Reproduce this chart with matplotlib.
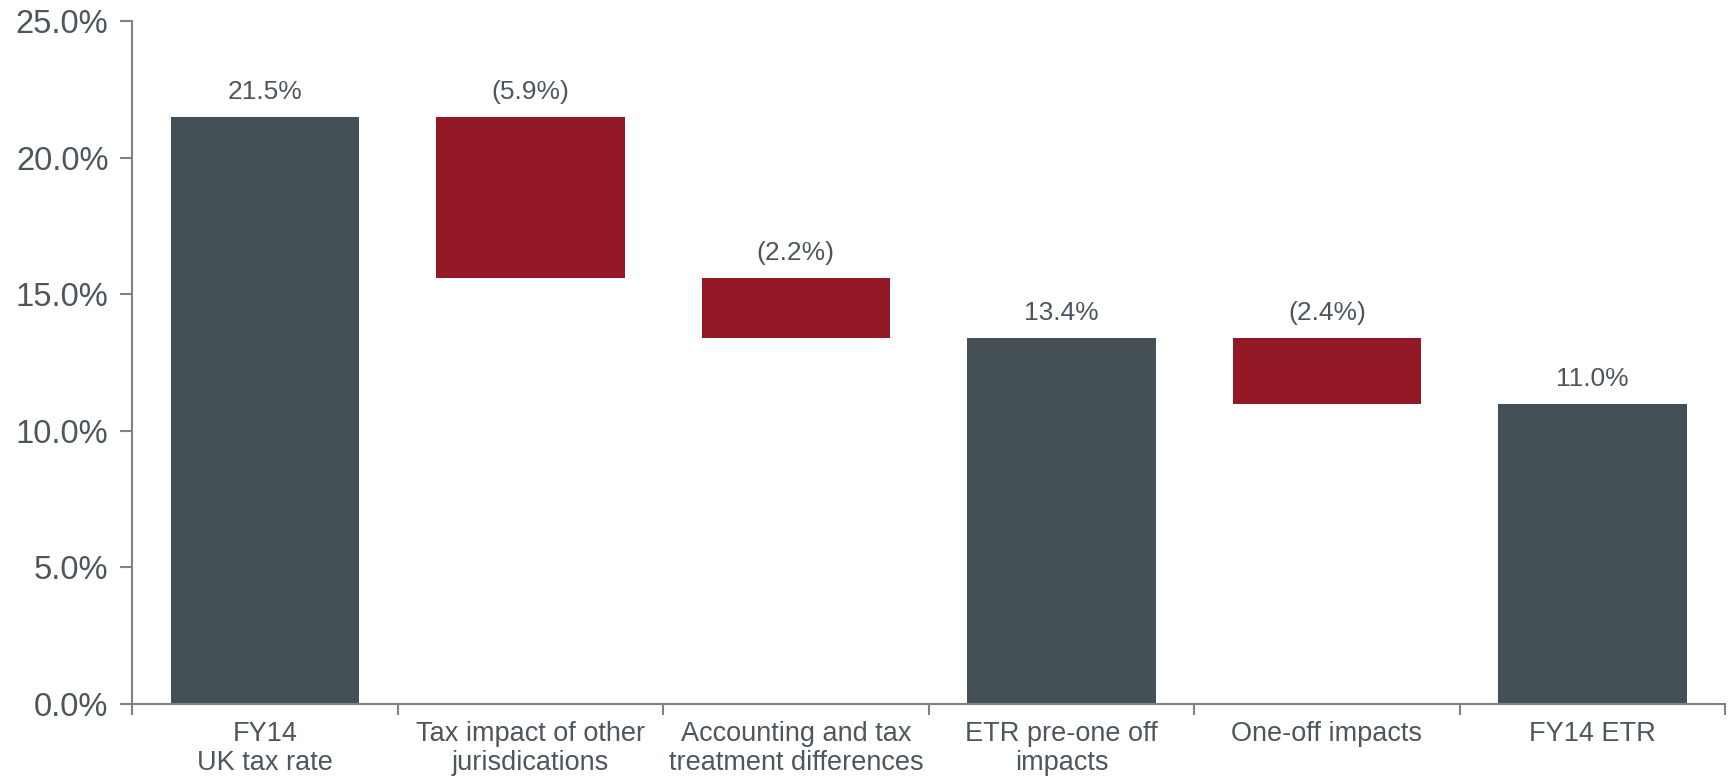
import numpy as np
import matplotlib
matplotlib.use("Agg")
import matplotlib.pyplot as plt

plt.rcParams["font.family"] = ["Liberation Sans", "DejaVu Sans"]

# Datos del gráfico (cascada de tasa efectiva)
categorias = ["FY14\nUK tax rate", "Tax impact of other\njurisdications",
              "Accounting and tax\ntreatment differences", "ETR pre-one off\nimpacts",
              "One-off impacts", "FY14 ETR"]
valores = [21.5, -5.9, -2.2, 13.4, -2.4, 11.0]
es_total = [True, False, False, True, False, True]

gris = "#454f56"
rojo = "#931927"
texto = "#4d565d"
eje = "#7d8388"

# Calcular bases de la cascada
bases, alturas, etiquetas = [], [], []
nivel = 0.0
for v, tot in zip(valores, es_total):
    if tot:
        bases.append(0.0)
        alturas.append(v)
        nivel = v
        etiquetas.append(f"{v:.1f}%")
    else:
        bases.append(nivel + v)
        alturas.append(-v)
        nivel = nivel + v
        etiquetas.append(f"({-v:.1f}%)")

fig = plt.figure(figsize=(17.28, 7.78), dpi=100)
ax = fig.add_axes([0.0764, 0.095, 0.922, 0.878])

x = np.arange(len(categorias))
colores = [gris if t else rojo for t in es_total]
barras = ax.bar(x, alturas, bottom=bases, width=0.71, color=colores)

for b, base, alt, et in zip(barras, bases, alturas, etiquetas):
    ax.annotate(et, (b.get_x() + b.get_width() / 2, base + alt),
                xytext=(0, 9), textcoords="offset points",
                ha="center", va="bottom", fontsize=19, color=texto)

ax.set_xlim(-0.5, len(categorias) - 0.5)
ax.set_ylim(0, 25)
ax.set_yticks(np.arange(0, 25.1, 5))
ax.set_yticklabels([f"{t:.1f}%" for t in np.arange(0, 25.1, 5)])
ax.set_xticks(x)
ax.set_xticklabels(categorias, fontsize=19.5, color=texto, linespacing=1.18)
ax.set_xticks(np.arange(-0.5, len(categorias)), minor=True)

ax.tick_params(axis="y", labelsize=23.5, labelcolor=texto, color=eje, width=1.5, length=9, pad=8)
ax.tick_params(axis="x", which="major", length=0, pad=12)
ax.tick_params(axis="x", which="minor", color=eje, width=1.5, length=8)

for lado in ["top", "right"]:
    ax.spines[lado].set_visible(False)
for lado in ["left", "bottom"]:
    ax.spines[lado].set_color(eje)
    ax.spines[lado].set_linewidth(1.5)

plt.savefig("out.png", dpi=100)
plt.close()
